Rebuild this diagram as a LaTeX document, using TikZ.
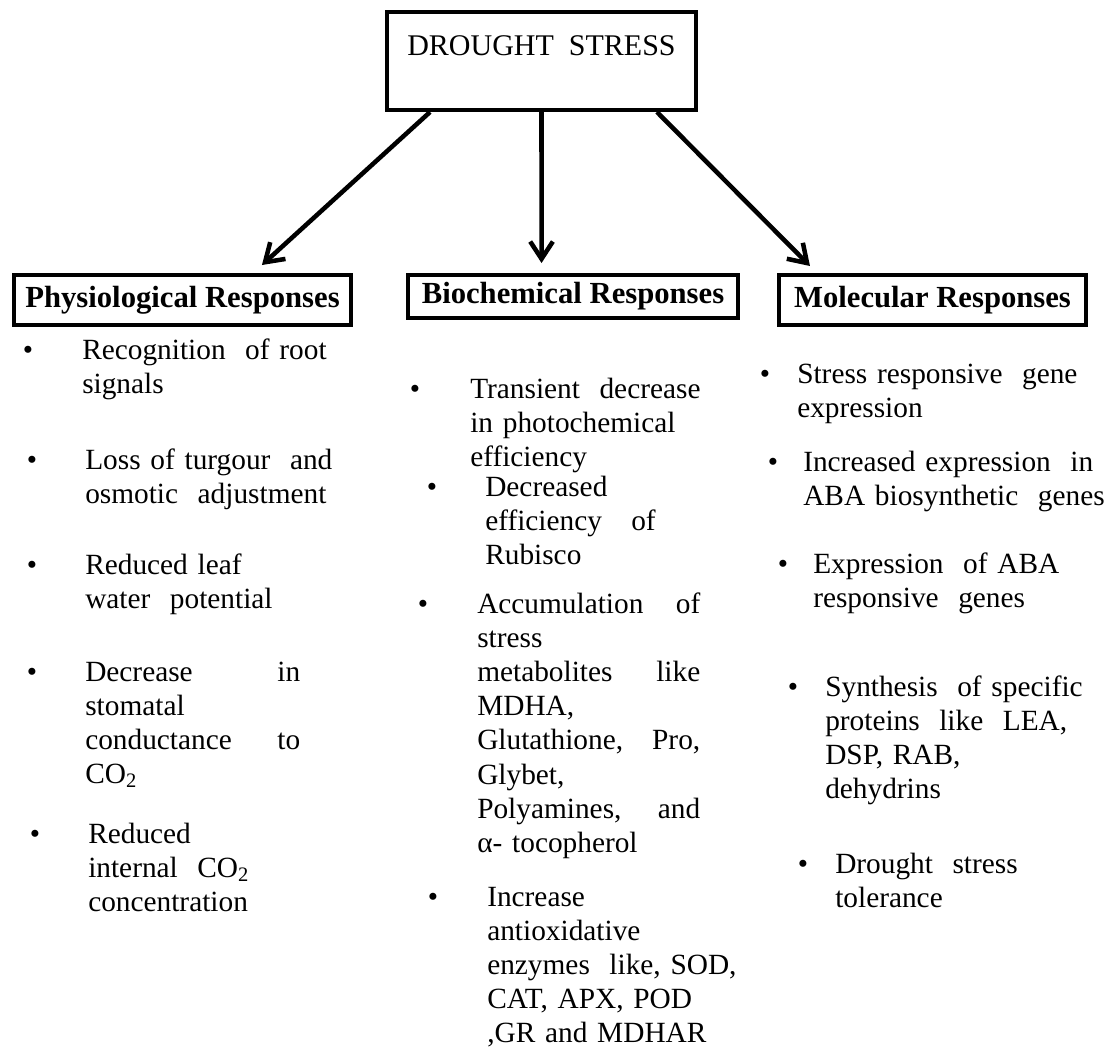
\documentclass[tikz,border=0pt]{standalone}
\usepackage{fontspec}
\setmainfont{Liberation Serif}
\usetikzlibrary{arrows.meta}

\begin{document}
\begin{tikzpicture}[x=0.75pt,y=-0.75pt,
    headbox/.style={draw, line width=3pt, inner sep=0pt, font=\fontsize{23}{27}\selectfont\bfseries},
    item/.style={anchor=base west, inner sep=0pt, align=left, text width=#1, font=\fontsize{22}{25.65}\selectfont},
    item/.default=230pt,
    puce/.style={anchor=base, inner sep=0pt, font=\fontsize{22}{22}\selectfont},
    fleche/.style={line width=3.4pt, -{Straight Barb[length=13pt,width=17pt]}}]

\useasboundingbox (0,0) rectangle (1113,1050);

% boite du haut
\node[draw, line width=3pt, inner sep=0pt, minimum width=231.75pt, text height=32.25pt, text depth=41.25pt,
      anchor=base, font=\fontsize{22.5}{27}\selectfont] (drought) at (541.5,55) {DROUGHT\ \ STRESS};

% les trois titres
\node[headbox, minimum width=252.75pt, minimum height=37.5pt] (physio) at (182.5,300) {Physiological Responses};
\node[headbox, minimum width=247.5pt, minimum height=32.25pt] (bioch) at (573,296.5) {Biochemical Responses};
\node[headbox, minimum width=230.25pt, minimum height=37.5pt] (molec) at (932.5,300) {Molecular Responses};

% fleches
\draw[fleche] ([xshift=-83.6pt]drought.south) -- ([xshift=59.6pt,yshift=6pt]physio.north);
\draw[fleche] (drought.south) -- ([xshift=-23.6pt,yshift=7.5pt]bioch.north);
\draw[fleche] ([xshift=86.6pt]drought.south) -- ([xshift=-91.9pt,yshift=5.25pt]molec.north);

% puces
\foreach \x/\y [count=\i] in {28/359,32/469,32/574,32/681,35/843,
    415/398,432/496,423/613,433/906,
    765/383,773/471,783/573,793/696,803/873}
    {\node[puce] (puce\i) at (\x,\y) {•};}

% colonne physiologique
\node[item] (p1) at (82,359) {Recognition\ \ of root\\signals};
\node[item] (p2) at (85,469) {Loss of turgour\ \ and\\osmotic\ \ adjustment};
\node[item] (p3) at (85,574) {Reduced leaf\\water\ \ potential};
\node[item=161.25pt] (p4) at (85,681) {Decrease\hfill in\\stomatal\\conductance\hfill to\\CO\textsubscript{2}};
\node[item] (p5) at (88,843) {Reduced\\internal\ \ CO\textsubscript{2}\\concentration};

% colonne biochimique
\node[item] (b1) at (470,398) {Transient\ \ decrease\\in photochemical\\efficiency};
\node[item] (b2) at (485,496) {Decreased\\efficiency\ \ \ of\\Rubisco};
\node[item=167.25pt] (b3) at (477,613) {Accumulation\hfill of\\stress\\metabolites\hfill like\\MDHA,\\Glutathione,\hfill Pro,\\Glybet,\\Polyamines,\hfill and\\α- tocopherol};
\node[item] (b4) at (487,906) {Increase\\antioxidative\\enzymes\ \ like, SOD,\\CAT, APX, POD\\,GR and MDHAR};

% colonne moleculaire
\node[item] (m1) at (797,383) {Stress responsive\ \ gene\\expression};
\node[item] (m2) at (803,471) {Increased expression\ \ in\\ABA biosynthetic\ \ genes};
\node[item] (m3) at (813,573) {Expression\ \ of ABA\\responsive\ \ genes};
\node[item] (m4) at (825,696) {Synthesis\ \ of specific\\proteins\ \ like\ \ LEA,\\DSP, RAB,\\dehydrins};
\node[item] (m5) at (835,873) {Drought\ \ stress\\tolerance};

\end{tikzpicture}
\end{document}
